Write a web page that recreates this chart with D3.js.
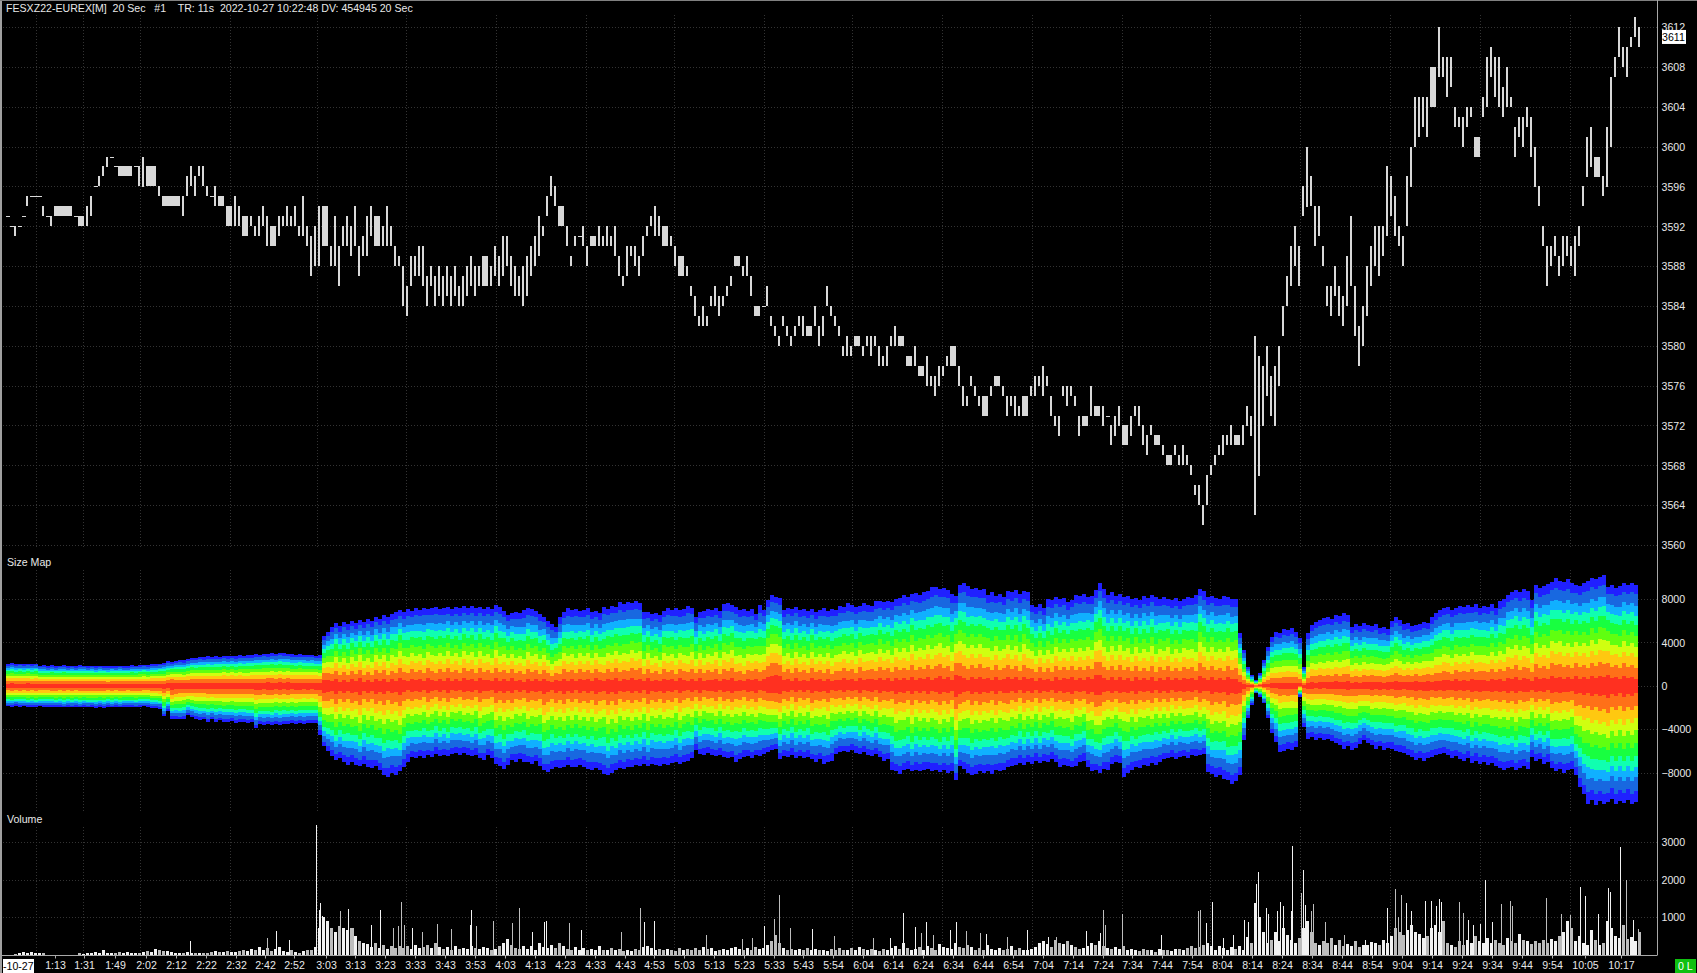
<!DOCTYPE html>
<html><head><meta charset="utf-8"><title>FESXZ22</title>
<style>html,body{margin:0;padding:0;background:#000;overflow:hidden}
svg{display:block}text{font-family:"Liberation Sans",Arial,sans-serif;font-size:10.6px;fill:#e8e8e8;white-space:pre}</style>
<script src="https://cdn.jsdelivr.net/npm/d3@7"></script></head><body><svg id="c" width="1697" height="973"></svg>
<script>
const priceHigh=[3593,3592,3592,3592,3593,3595,3595,3595,3595,3594,
3593,3593,3594,3594,3594,3594,3594,3593,3593,3593,3594,
3595,3596,3597,3598,3599,3599,3598,3598,3598,3598,3598,
3598,3598,3599,3598,3598,3598,3596,3595,3595,3595,3595,
3595,3595,3597,3598,3597,3598,3598,3596,3595,3596,
3595,3595,3594,3594,3595,3594,3593,3593,3593,3592,3593,
3594,3593,3592,3592,3593,3593,3594,3593,3594,3592,
3595,3592,3591,3592,3594,3594,3594,3590,3593,3590,3592,
3593,3592,3594,3590,3591,3593,3594,3593,3593,3592,3594,
3592,3590,3589,3588,3586,3589,3589,3590,3590,3587,
3588,3587,3588,3587,3588,3587,3588,3586,3587,3588,
3589,3588,3588,3589,3589,3588,3590,3589,3591,3591,
3589,3588,3587,3588,3589,3590,3591,3593,3592,3595,
3597,3596,3594,3594,3592,3589,3591,3591,3592,3590,
3591,3591,3592,3591,3592,3591,3592,3589,3587,3590,
3590,3590,3589,3591,3592,3593,3594,3593,3592,3592,
3591,3590,3589,3589,3588,3586,3585,3583,3584,3583,
3585,3586,3585,3585,3586,3587,3589,3589,3588,3589,
3587,3584,3584,3584,3586,3583,3582,3581,3583,3582,
3581,3582,3583,3583,3582,3582,3584,3582,3583,3586,
3584,3583,3582,3580,3581,3580,3581,3581,3580,3581,
3581,3581,3580,3579,3580,3581,3582,3581,3581,3579,
3579,3580,3578,3578,3579,3577,3577,3578,3578,3579,
3580,3580,3578,3576,3575,3577,3576,3575,3575,3575,
3576,3577,3577,3576,3575,3575,3575,3574,3575,3575,
3576,3577,3577,3578,3577,3575,3573,3573,3576,3576,
3576,3575,3573,3573,3573,3576,3574,3574,3574,3573,
3572,3573,3574,3572,3572,3573,3574,3574,3572,3571,
3572,3571,3571,3570,3569,3569,3570,3569,3570,3569,
3568,3566,3566,3564,3567,3568,3569,3570,3571,3571,
3572,3571,3571,3572,3574,3573,3581,3579,3578,3580,
3577,3578,3580,3584,3587,3590,3592,3590,3596,3600,
3597,3594,3594,3590,3586,3586,3588,3586,3585,3589,
3593,3586,3582,3584,3588,3590,3592,3592,3592,3598,
3597,3595,3592,3591,3597,3600,3605,3605,3605,3605,
3608,3608,3612,3609,3609,3609,3604,3603,3603,3604,
3604,3601,3601,3605,3609,3610,3609,3609,3606,3608,
3605,3602,3603,3603,3604,3603,3600,3596,3592,3590,
3590,3591,3589,3591,3591,3590,3591,3592,3596,3601,
3602,3599,3599,3597,3602,3607,3609,3612,3610,3610,
3611,3613,3612];
const priceLow=[3593,3592,3591,3592,3593,3594,3595,3595,3595,3593,
3593,3592,3593,3593,3593,3593,3593,3593,3592,3592,3592,
3593,3596,3596,3597,3598,3599,3598,3597,3597,3597,3597,
3598,3596,3596,3596,3596,3596,3595,3594,3594,3594,3594,
3594,3593,3595,3596,3595,3597,3596,3595,3595,3594,
3594,3594,3592,3592,3592,3592,3591,3591,3592,3591,3591,
3592,3590,3590,3590,3591,3592,3592,3592,3592,3591,
3591,3590,3587,3588,3588,3590,3590,3588,3588,3586,3590,
3590,3589,3590,3587,3589,3589,3591,3590,3590,3590,3590,
3590,3588,3588,3584,3583,3586,3587,3587,3586,3584,
3586,3584,3585,3584,3585,3584,3585,3584,3584,3585,
3586,3585,3586,3586,3586,3586,3587,3586,3587,3588,
3586,3585,3585,3584,3585,3587,3588,3589,3591,3593,
3595,3594,3592,3592,3590,3588,3590,3591,3590,3588,
3590,3590,3590,3590,3590,3590,3589,3587,3586,3587,
3589,3588,3587,3589,3591,3592,3591,3591,3590,3590,
3590,3588,3587,3587,3587,3585,3583,3582,3582,3582,
3584,3584,3583,3584,3585,3586,3588,3588,3587,3587,
3585,3583,3583,3584,3584,3582,3581,3580,3582,3581,
3580,3581,3582,3581,3581,3581,3582,3580,3581,3584,
3583,3582,3581,3579,3579,3579,3580,3580,3579,3580,
3579,3580,3578,3578,3578,3580,3580,3580,3580,3578,
3578,3578,3577,3577,3576,3576,3575,3576,3577,3578,
3578,3578,3576,3574,3574,3576,3575,3574,3573,3573,
3575,3576,3576,3575,3573,3574,3573,3573,3573,3573,
3575,3575,3576,3575,3576,3573,3572,3571,3575,3574,
3575,3574,3571,3572,3572,3573,3573,3573,3572,3573,
3570,3571,3572,3570,3570,3571,3573,3572,3570,3569,
3571,3570,3570,3569,3568,3568,3569,3568,3568,3568,
3567,3565,3564,3562,3564,3567,3568,3569,3569,3570,
3570,3570,3570,3570,3572,3571,3563,3567,3572,3575,
3573,3572,3576,3581,3584,3586,3588,3586,3593,3594,
3594,3590,3591,3588,3584,3583,3585,3583,3582,3584,
3586,3581,3578,3580,3583,3586,3588,3587,3589,3591,
3593,3591,3590,3588,3592,3596,3600,3601,3602,3601,
3604,3604,3607,3607,3605,3606,3602,3602,3600,3602,
3603,3599,3599,3603,3604,3607,3605,3604,3603,3604,
3604,3599,3601,3600,3602,3599,3596,3594,3590,3586,
3588,3589,3587,3588,3589,3588,3587,3590,3594,3597,
3598,3597,3597,3595,3596,3600,3607,3609,3608,3607,
3610,3611,3610];
const mapTop=[2030,2060,2000,2050,2020,2040,2010,2050,1850,1880,
1830,1870,1820,1850,1880,1830,1860,1820,1870,1840,
1800,1850,1790,1840,1810,1780,1830,1800,1850,1790,
1830,1880,1850,1900,1940,1900,1960,2000,2040,2080,
2250,2200,2300,2380,2330,2450,2600,2550,2650,2620,
2700,2640,2720,2680,2750,2700,2780,2720,2800,2760,
2820,2790,2900,2850,2950,2900,3020,2960,3050,2980,
2950,2900,2860,2920,2880,2830,2860,2770,2800,4560,
5000,5400,5790,5500,5900,5700,6000,5800,6100,5900,
6200,6000,6350,6150,6500,6300,6650,6800,7020,6800,
7100,6900,7150,7000,7200,7050,7180,7300,7100,7180,
7250,7100,7300,7150,7350,7200,7330,7150,7250,7100,
7250,7100,7450,7300,6900,6530,6700,6840,6700,6950,
7150,7100,6900,6600,6380,6000,5700,5450,6300,6800,
7150,6950,7100,6900,7000,7150,6800,6900,6700,7300,
7100,7400,7300,7700,7500,7760,7600,7800,7650,6800,
6840,6600,6700,6500,6900,7150,7000,7150,6950,7100,
7400,7200,6380,6800,6900,7100,7000,7150,6900,7500,
7600,7450,7300,7000,7100,6900,7100,6600,7450,7000,
7900,8380,8200,8070,7000,7200,7100,7300,7000,7100,
6900,7100,6800,7000,7150,6900,7100,7000,7400,7300,
7600,7450,7300,7400,7600,7450,7400,7800,7850,7700,
7800,7700,8000,8070,8380,8200,8500,8590,8400,8650,
8700,9100,9150,8900,9000,8800,8500,8300,9300,9520,
9200,8900,9000,8800,8900,8400,8600,8300,8500,8200,
8700,8600,8800,8500,8700,8600,7450,7300,7500,7200,
8000,7900,8200,8000,8100,7700,7900,8400,8300,8500,
8200,8300,8800,9450,8900,8400,8600,8300,8500,8200,
8300,8000,8100,7900,8300,8100,8400,8200,8000,8200,
8000,7900,8100,7800,8000,8200,8100,8400,8950,8700,
8200,8300,8100,8000,8250,8150,8000,7970,4840,3300,
1760,1000,520,1140,2370,3600,4530,5000,4900,5200,
5100,5300,5000,4370,1750,4840,5600,5900,6100,6220,
6300,6200,6500,6400,6680,6500,5450,5700,5500,5760,
5600,5500,5700,5300,5400,5200,6000,6380,6100,5700,
5800,5500,5600,5700,5910,5800,6300,6700,7000,7150,
7300,7000,7200,7400,7300,7450,7300,7500,7200,7350,
7300,7500,7200,7800,8000,8400,8690,8800,8600,8900,
8700,7900,9300,9000,9200,9400,9600,9900,9700,9600,
9800,9500,9300,9200,9500,9700,9900,9800,10000,10200,
9150,9300,9000,9200,9450,9300,9500,9300,9000];
const mapBottom=[-1910,-1950,-1880,-1930,-1900,-1960,-1920,-1980,-1900,-1940,
-1950,-1920,-1980,-1940,-2000,-1950,-1980,-1930,-2000,-1960,
-2000,-1960,-2020,-1970,-2010,-1960,-2000,-1950,-2000,-1960,
-1980,-1940,-1990,-1930,-1900,-1960,-2010,-2060,-2100,-2830,
-2300,-3050,-3050,-3100,-3050,-2700,-2900,-3050,-3150,-3100,
-3300,-3100,-3350,-3200,-3300,-3350,-3250,-3400,-3300,-3350,
-3400,-3350,-3900,-3500,-3600,-3550,-3650,-3500,-3600,-3500,
-3500,-3450,-3550,-3450,-3500,-3400,-3450,-3450,-4500,-5600,
-6000,-6500,-6840,-6700,-7000,-7300,-7000,-7300,-7400,-7200,
-7500,-7600,-7400,-7800,-8220,-8400,-8000,-8220,-7900,-7450,
-7000,-6530,-6700,-6500,-6700,-6400,-6600,-6300,-6500,-6400,
-6500,-6300,-6220,-6400,-6200,-6350,-6500,-6400,-6700,-6840,
-6400,-6700,-7180,-7400,-7640,-7300,-6870,-7000,-6800,-7000,
-7020,-7200,-6950,-7400,-7800,-7950,-7700,-7500,-7600,-7480,
-7300,-7500,-7480,-7300,-7500,-7700,-7790,-7600,-7800,-8100,
-8250,-8000,-7800,-7600,-7700,-7500,-7480,-7300,-7400,-7200,
-7400,-7200,-7300,-7400,-7200,-7300,-7100,-7020,-7200,-7000,
-6950,-6700,-5940,-6300,-6400,-6200,-6400,-6500,-6400,-6600,
-6700,-6600,-7020,-6800,-6600,-6500,-6700,-6400,-6500,-6250,
-6100,-5900,-5790,-6710,-6500,-6600,-6400,-6650,-6500,-6700,
-6600,-6800,-7000,-6800,-7180,-7000,-6900,-6300,-6100,-6000,
-6100,-5900,-6200,-6250,-6100,-6400,-6500,-6300,-6600,-6900,
-6800,-7790,-7900,-8160,-7800,-7700,-7900,-7800,-7900,-7800,
-7700,-7900,-7800,-7950,-7800,-8000,-7900,-8700,-7400,-7700,
-8000,-8200,-8100,-7900,-8000,-7900,-8100,-7800,-7900,-7800,
-7500,-7400,-7300,-7100,-7300,-7000,-7200,-6900,-7100,-6900,
-7000,-6800,-7000,-7480,-7300,-7400,-7500,-7400,-7000,-6900,
-7500,-7900,-7800,-8000,-7700,-7800,-7200,-7000,-7100,-8400,
-8000,-7800,-7500,-7600,-7300,-7400,-7100,-7300,-7000,-6800,
-6700,-6600,-6800,-6600,-6500,-6700,-6400,-6500,-6400,-6300,
-7950,-8100,-8400,-8200,-8560,-8700,-9020,-8800,-8250,-5020,
-3000,-1800,-710,-1000,-1630,-3000,-4400,-5200,-6100,-6000,
-5800,-5900,-5640,-1000,-3790,-4870,-4700,-5000,-4800,-5000,
-4900,-5100,-5300,-5500,-5790,-5600,-5900,-5700,-5400,-5000,
-5300,-5500,-5800,-5600,-5900,-5700,-5800,-6000,-6100,-6200,
-6400,-6600,-6870,-6700,-6900,-6700,-6600,-6400,-6300,-6200,
-6400,-6700,-6500,-6800,-6900,-6700,-7100,-6900,-7200,-7000,
-7300,-7100,-7400,-7600,-7800,-7600,-7500,-7800,-7600,-7400,
-7700,-6560,-6900,-6800,-7200,-7000,-7600,-7900,-7700,-8000,
-7800,-7700,-8200,-9330,-10000,-10870,-10500,-11000,-10600,-10900,
-10700,-10400,-10900,-10600,-10800,-10500,-10900,-10700,-10720];
const mapInnerShape=[85,83,87,84,86,82,88,85,84,86,
87,83,85,88,84,86,83,87,85,84,
86,82,87,85,83,88,84,86,85,83,
87,84,86,83,85,88,82,86,84,87,
85,70,80,84,88,82,86,83,87,84,
86,82,88,85,83,87,84,86,82,85,
88,84,86,83,87,82,85,88,84,86,
83,87,85,84,88,82,86,84,90,76,
84,98,80,104,90,110,86,100,78,108,
94,112,84,102,88,114,92,106,80,100,
110,88,104,92,116,84,100,112,90,106,
86,108,96,114,88,102,92,112,84,104,
98,114,86,108,92,104,84,110,96,116,
88,106,92,112,84,100,118,90,106,86,
108,94,114,88,104,92,110,84,102,116,
90,106,86,112,98,108,88,104,92,114,
84,106,96,112,88,104,92,116,86,102,
110,90,106,84,112,96,104,88,114,92,
106,86,110,98,116,90,102,84,108,94,
82,78,74,80,104,92,114,88,106,96,
112,84,102,92,110,88,116,96,104,86,
108,92,112,84,106,98,90,110,86,102,
92,114,88,104,96,108,84,112,94,106,
88,110,98,84,104,92,114,76,84,100,
110,90,106,86,102,94,112,84,108,96,
88,106,92,114,86,102,90,110,84,104,
96,112,88,106,92,100,84,110,94,108,
86,102,78,82,98,110,90,106,86,104,
92,112,84,106,96,108,88,116,90,104,
84,110,94,106,88,100,92,112,82,96,
108,88,104,92,110,86,102,94,96,112,
120,128,132,126,118,124,116,126,118,122,
116,124,118,120,110,120,112,122,116,124,
114,120,112,122,116,108,118,112,120,110,
116,106,118,110,120,108,114,104,112,118,
106,116,102,112,108,100,114,104,110,98,
106,116,96,110,102,112,92,108,100,104,
110,94,106,98,112,92,104,90,108,96,
102,112,90,104,96,110,88,100,92,106,
98,108,86,102,94,110,90,104,88,96,
82,100,92,106,88,102,94,108,96];
const volumeBase=[0,0,20,40,60,30,80,40,30,40,
0,0,0,0,0,0,0,0,30,20,
50,30,70,40,130,50,30,40,60,30,
60,40,50,40,80,100,70,140,120,100,
90,60,40,50,40,60,30,40,30,50,
40,70,90,60,70,100,60,80,90,120,
100,150,120,200,130,170,100,150,200,100,
80,120,60,50,90,110,120,200,700,1000,
900,700,600,750,700,650,700,500,350,300,
280,200,300,180,260,150,240,180,220,170,
230,150,260,180,200,260,170,300,200,150,
200,130,220,160,180,140,220,170,160,210,
180,120,160,220,300,420,250,180,150,230,
160,220,130,300,200,170,260,180,300,230,
160,120,200,130,180,110,160,130,220,110,
130,180,110,160,100,130,90,150,110,190,
240,170,120,150,110,160,130,100,170,120,
140,110,180,130,210,140,170,100,130,160,
130,180,200,140,110,170,120,190,140,180,
250,350,520,300,180,130,160,120,150,130,
170,120,150,110,130,100,160,120,180,130,
110,170,130,190,140,110,160,120,90,150,
120,170,220,140,300,170,120,160,200,130,
240,180,130,280,200,170,140,320,200,170,
250,200,130,170,120,260,160,120,180,130,
150,240,120,180,130,110,160,210,300,350,
280,200,400,320,280,350,260,200,150,180,
220,300,260,350,220,170,140,190,160,240,
110,150,120,90,140,110,130,80,150,120,
130,90,140,160,120,180,230,170,200,260,
300,220,130,240,170,130,200,160,230,130,
480,300,1380,1000,600,300,400,600,350,700,
520,400,300,450,700,900,600,300,250,350,
300,450,250,380,240,280,220,350,200,250,
260,330,300,250,380,320,500,700,600,520,
650,800,600,550,450,500,700,800,600,900,
300,250,200,350,260,400,300,500,350,300,
450,320,400,300,250,450,350,320,550,400,
350,280,350,320,400,300,420,350,500,600,
900,700,350,500,300,250,650,400,250,300,
900,700,500,450,800,420,480,370,600];
const spikeBars=[184,261,270,283,310,313,314,316,318,334,342,347,365,374,387,392,395,398,406,416,431,445,464,465,470,487,506,513,526,538,540,563,575,615,634,638,648,700,736,746,758,768,773,784,806,828,867,884,897,909,915,920,927,944,950,960,974,980,1001,1021,1042,1050,1080,1094,1097,1099,1116,1155,1192,1194,1200,1206,1217,1227,1238,1242,1250,1252,1260,1262,1271,1274,1277,1285,1286,1295,1299,1297,1305,1307,1319,1338,1359,1381,1389,1392,1395,1400,1405,1419,1425,1430,1433,1435,1453,1457,1462,1467,1474,1479,1486,1495,1504,1506,1540,1555,1564,1574,1579,1592,1602,1604,1614,1620,1627,1632];
const spikeVolume=[360,430,630,390,3465,1200,1380,1030,790,1170,1220,700,800,1200,720,750,1400,800,700,590,810,680,800,1200,750,900,840,1240,600,880,900,840,660,600,1240,860,900,520,410,430,760,950,1600,710,680,500,430,430,1110,730,570,860,520,660,870,630,570,550,460,660,480,480,630,570,1200,790,1090,520,1170,1200,840,1400,430,520,930,880,1870,2190,1240,1090,1150,1400,1290,1150,2900,1650,1330,2250,1150,1360,860,520,390,1240,1760,1000,1590,1380,1150,1440,1440,1290,1470,1400,1400,1110,930,790,820,1980,880,1360,1440,1300,1510,1090,1050,1800,1570,1090,1780,1680,2870,1980,930,680];
const timeLabels=["1:13","1:31","1:49","2:02","2:12","2:22","2:32","2:42","2:52","3:03","3:13","3:23","3:33","3:43","3:53","4:03","4:13","4:23","4:33","4:43","4:53","5:03","5:13","5:23","5:33","5:43","5:54","6:04","6:14","6:24","6:34","6:44","6:54","7:04","7:14","7:24","7:34","7:44","7:54","8:04","8:14","8:24","8:34","8:44","8:54","9:04","9:14","9:24","9:34","9:44","9:54","10:05","10:17"];
const timeBars=[49,78,109,140,170,200,230,259,288,320,349,379,409,439,469,499,529,559,589,619,648,678,708,738,768,797,827,857,887,917,947,977,1007,1037,1067,1097,1126,1156,1186,1216,1246,1276,1306,1336,1366,1396,1426,1456,1486,1516,1546,1579,1615];
const gridBars=[30,77,134,224,311,400,490,580,668,758,846,936,1026,1116,1204,1294,1384,1474,1564];
const priceTicks=[3560,3564,3568,3572,3576,3580,3584,3588,3592,3596,3600,3604,3608,3612];
const mapTicks=[8000,4000,0,-4000,-8000];
const volumeTicks=[3000,2000,1000];
const bandLimits=[1,.91,.8,.71,.62,.51,.4,.3,.19,.075];
const bandColors=["#2020ff","#1868e0","#10b0ff","#10ffb0","#18ff40","#60ff10","#d0ff10","#ffc810","#ff7018","#ff3020"];
const lastPrice=3611;

const svg=d3.select("#c");
const sampleStep=4;
const barsOf=i=>i*sampleStep;
const x=d3.scaleLinear().domain([0,1632]).range([6,1638]);
const yP=d3.scaleLinear().domain([3560,3612]).range([545,27]);
const yM=d3.scaleLinear().domain([-8000,8000]).range([772.5,599]);
const yV=d3.scaleLinear().domain([0,3000]).range([954.5,842]);
const R=1657.5;
const panes=[[yP,priceTicks,15,548],[yM,mapTicks,570,812],[yV,volumeTicks,827,954]];
const G="#333";
panes.forEach(([s,t,a,b])=>{
  const g=svg.append("g");
  g.selectAll("line.h").data(t).join("line").attr("x1",3).attr("x2",R).attr("y1",d=>Math.round(s(d))+.5).attr("y2",d=>Math.round(s(d))+.5).attr("stroke",G).attr("stroke-dasharray","1,2");
  g.selectAll("line.v").data(gridBars).join("line").attr("class","v").attr("y1",a).attr("y2",b).attr("x1",d=>Math.round(x(d))+.5).attr("x2",d=>Math.round(x(d))+.5).attr("stroke",G).attr("stroke-dasharray","1,2");
});
const idx=d3.range(mapTop.length);
bandLimits.forEach((f,k)=>{
  const w=i=>Math.pow(f,1+(mapInnerShape[i]-100)/100*.7);
  const area=d3.area().curve(d3.curveStepAfter).x(i=>x(barsOf(i))).y0(i=>yM(mapBottom[i]*w(i))).y1(i=>yM(mapTop[i]*w(i)));
  svg.append("path").attr("d",area(idx)).attr("fill",bandColors[k]).attr("shape-rendering","crispEdges");
});
const sameAsNext=i=>i+1<priceHigh.length&&priceHigh[i]===priceHigh[i+1]&&priceLow[i]===priceLow[i+1];
svg.append("g").selectAll("rect").data(idx).join("rect")
  .attr("x",i=>x(barsOf(i))).attr("width",i=>(priceHigh[i]===priceLow[i]||sameAsNext(i))?4:2)
  .attr("y",i=>Math.round(yP(priceHigh[i])))
  .attr("height",i=>Math.max(1,yP(priceLow[i])-yP(priceHigh[i])))
  .attr("fill","#d8d8d8").attr("shape-rendering","crispEdges");
const tone=i=>(i>0&&priceHigh[i]+priceLow[i]>=priceHigh[i-1]+priceLow[i-1])?"#f2f2f2":"#bdbdbd";
svg.append("g").selectAll("rect").data(idx).join("rect")
  .attr("x",i=>x(barsOf(i))).attr("width",3).attr("y",i=>yV(volumeBase[i])).attr("height",i=>yV(0)-yV(volumeBase[i]))
  .attr("fill",tone).attr("shape-rendering","crispEdges");
svg.append("g").selectAll("rect").data(spikeBars).join("rect")
  .attr("x",d=>x(d)).attr("width",1).attr("y",(d,j)=>yV(spikeVolume[j])).attr("height",(d,j)=>yV(0)-yV(spikeVolume[j]))
  .attr("fill",d=>tone(Math.floor(d/sampleStep))).attr("shape-rendering","crispEdges");
svg.append("rect").attr("x",0).attr("y",0).attr("width",2).attr("height",973).attr("fill","#a0a0a0");
svg.append("rect").attr("x",0).attr("y",0).attr("width",1697).attr("height",1).attr("fill","#808080");
panes.forEach(([s,t])=>{
  const a=svg.append("g").attr("transform",`translate(${R},0)`).call(d3.axisRight(s).tickValues(t).tickFormat(d3.format("d")).tickSize(0).tickPadding(4));
  a.select(".domain").remove();
  a.selectAll("text").attr("fill",null).style("font-size","10.6px").attr("dy","0.36em");
});
svg.append("line").attr("x1",R).attr("x2",R).attr("y1",0).attr("y2",955).attr("stroke","#a8a8a8");
const ax=svg.append("g").attr("transform","translate(0,955.5)").call(d3.axisBottom(x).tickValues(timeBars).tickFormat((d,i)=>timeLabels[i]).tickSize(3).tickPadding(3));
ax.select(".domain").remove();
ax.selectAll("line").attr("stroke","#a8a8a8");
ax.selectAll("text").attr("fill",null).style("font-size","10.6px");
svg.append("line").attr("x1",2).attr("x2",R).attr("y1",955.5).attr("y2",955.5).attr("stroke","#a8a8a8");
const ly=yP(lastPrice);
svg.append("rect").attr("x",1662).attr("y",ly-7).attr("width",24).attr("height",14).attr("fill","#fff");
svg.append("text").attr("x",1662).attr("y",ly+4).text(String(lastPrice)).style("fill","#000");
svg.append("text").attr("x",6).attr("y",12).text("FESXZ22-EUREX[M]  20 Sec   #1    TR: 11s  2022-10-27 10:22:48 DV: 454945 20 Sec");
svg.append("text").attr("x",7).attr("y",566).text("Size Map");
svg.append("text").attr("x",7).attr("y",823).text("Volume");
svg.append("rect").attr("x",3).attr("y",959).attr("width",31).attr("height",14).attr("fill","#fff");
svg.append("text").attr("x",3).attr("y",970).text("-10-27").style("fill","#000");
svg.append("rect").attr("x",1675).attr("y",959).attr("width",21).attr("height",14).attr("fill","#10c010");
svg.append("text").attr("x",1678).attr("y",970).text("0 L").style("fill","#fff");
</script></body></html>
